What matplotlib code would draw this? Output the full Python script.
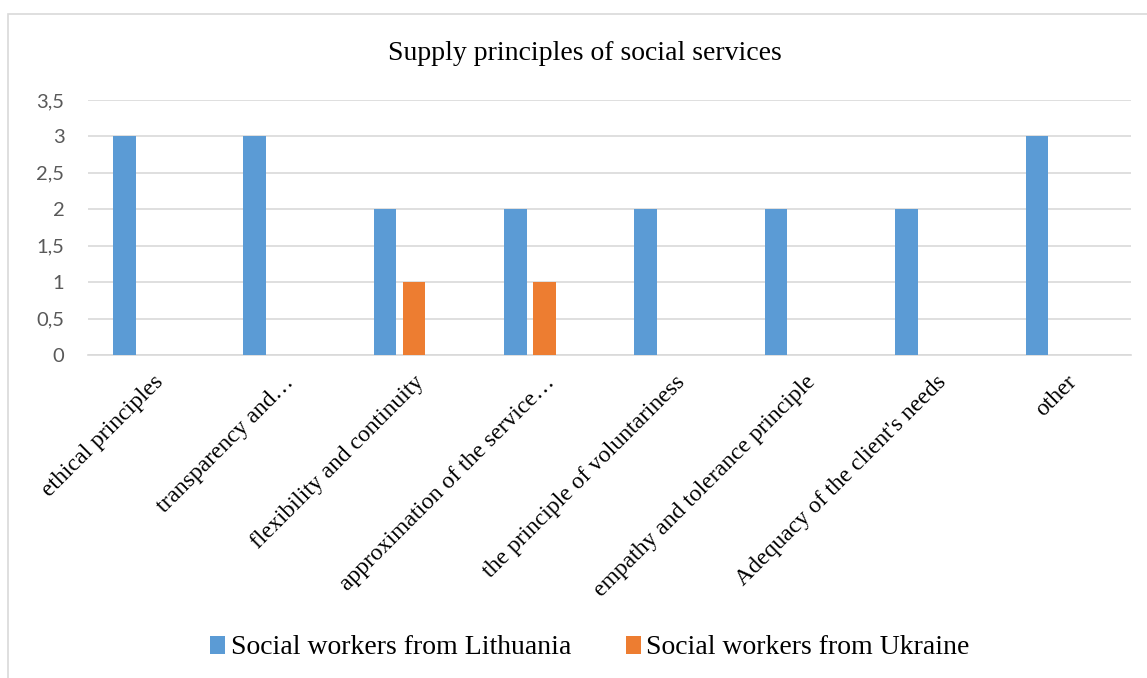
import matplotlib
matplotlib.use("Agg")
import matplotlib.pyplot as plt
from matplotlib.patches import Rectangle, Patch
from matplotlib.ticker import FuncFormatter
import numpy as np

title = "Supply principles of social services"
categories = [
    "ethical principles",
    "transparency and…",
    "flexibility and continuity",
    "approximation of the service…",
    "the principle of voluntariness",
    "empathy and tolerance principle",
    "Adequacy of the client's needs",
    "other",
]
series_names = ["Social workers from Lithuania", "Social workers from Ukraine"]
lithuania = [3, 3, 2, 2, 2, 2, 2, 3]
ukraine = [0, 0, 1, 1, 0, 0, 0, 0]
y_ticks = [0, 0.5, 1, 1.5, 2, 2.5, 3, 3.5]

BLUE = "#5B9BD5"
ORANGE = "#ED7D31"
GRID = "#D9D9D9"
TICK_COLOR = "#595959"
SERIF = ["Liberation Serif", "DejaVu Serif"]
SANS = ["Lato", "DejaVu Sans"]

W, H = 1147, 678
fig = plt.figure(figsize=(W / 100, H / 100), dpi=100)
fig.patch.set_facecolor("white")

# chart-area frame (left and top edges visible)
fig.add_artist(Rectangle((8 / W, -0.1), 1.2, 1.1 - 14 / H, transform=fig.transFigure,
                         fill=False, edgecolor=GRID, linewidth=1.2))

ax = fig.add_axes([88 / W, 1 - 355 / H, (1131 - 88) / W, (355 - 100) / H])
x = np.arange(len(categories))
bw = 0.173
step = 0.222
ax.bar(x - step, lithuania, width=bw, color=BLUE, zorder=3)
ax.bar(x, ukraine, width=bw, color=ORANGE, zorder=3)

ax.set_xlim(-0.5, len(categories) - 0.5)
ax.set_ylim(0, 3.5)
ax.set_yticks(y_ticks)
ax.yaxis.set_major_formatter(FuncFormatter(lambda v, p: ("%g" % v).replace(".", ",")))
ax.grid(axis="y", color=GRID, linewidth=1.2, zorder=0)
for s in ["top", "right", "left"]:
    ax.spines[s].set_visible(False)
ax.spines["bottom"].set_color(GRID)
ax.spines["bottom"].set_linewidth(1.2)
ax.tick_params(axis="y", length=0, pad=17, labelsize=14.5, labelcolor=TICK_COLOR)
for lab in ax.get_yticklabels():
    lab.set_family(SANS)
ax.set_xticks(x)
ax.set_xticklabels(categories, rotation=45, ha="right", va="top",
                   rotation_mode="anchor", family=SERIF, fontsize=17)
ax.tick_params(axis="x", length=0, pad=12)

fig.text(585 / W, 1 - 60 / H, title, ha="center", va="baseline",
         family=SERIF, fontsize=20)

handles = [Patch(facecolor=BLUE, edgecolor="none"), Patch(facecolor=ORANGE, edgecolor="none")]
fig.legend(handles, series_names, loc="center", bbox_to_anchor=(590 / W, 1 - 648 / H),
           ncol=2, frameon=False, prop={"family": SERIF, "size": 20},
           handlelength=0.55, handleheight=0.6, handletextpad=0.2, columnspacing=1.95)

fig.savefig("out.png", dpi=100)
